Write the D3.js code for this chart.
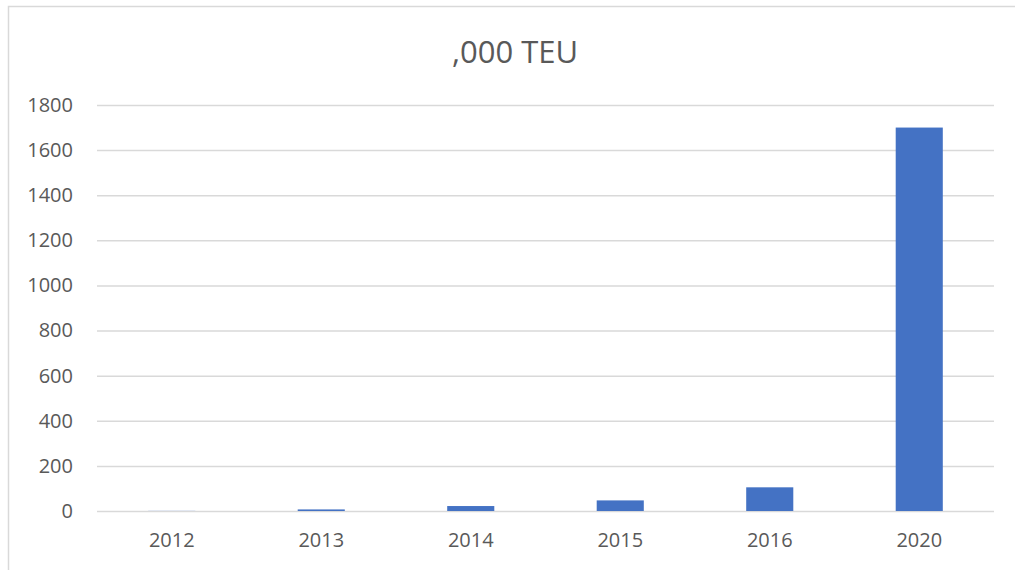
<!DOCTYPE html>
<html>
<head>
<meta charset="utf-8">
<script src="https://cdn.jsdelivr.net/npm/d3@7"></script>
<style>
  body { margin: 0; background: #fff; }
  svg { display: block; font-family: "Open Sans", sans-serif; }
</style>
</head>
<body>
<div id="chart"></div>
<script>
// values
var years = ["2012", "2013", "2014", "2015", "2016", "2020"];
var teu = [0.5, 7, 22, 47, 105, 1700];
var yTicks = [0, 200, 400, 600, 800, 1000, 1200, 1400, 1600, 1800];

var svgWidth = 1015;
var svgHeight = 570;

var margin = { top: 105, right: 21, bottom: 59, left: 97 };
var width = svgWidth - margin.left - margin.right;
var height = svgHeight - margin.top - margin.bottom;

var svg = d3.select("#chart")
  .append("svg")
  .attr("width", svgWidth)
  .attr("height", svgHeight);

// chart frame (runs off the right and bottom edges)
svg.append("rect")
  .attr("x", 8.5)
  .attr("y", 6.5)
  .attr("width", 1020)
  .attr("height", 600)
  .attr("fill", "none")
  .attr("stroke", "#d9d9d9")
  .attr("stroke-width", 1.5);

var chartGroup = svg.append("g")
  .attr("transform", `translate(${margin.left}, ${margin.top})`);

var xScale = d3.scaleBand()
  .domain(years)
  .range([0, width])
  .paddingInner(0.685)
  .paddingOuter(0.3425);

var yScale = d3.scaleLinear()
  .domain([0, 1800])
  .range([height, 0]);

// gridlines + y labels
var leftAxis = d3.axisLeft(yScale)
  .tickValues(yTicks)
  .tickSize(-width)
  .tickPadding(24)
  .tickFormat(d3.format("d"));

chartGroup.append("g")
  .call(leftAxis)
  .attr("font-family", "'Open Sans', sans-serif")
  .call(g => g.select(".domain").remove())
  .call(g => g.selectAll(".tick line").attr("stroke", "#d9d9d9").attr("stroke-width", 1.5))
  .call(g => g.selectAll(".tick text").style("font-size", "20px").attr("fill", "#595959"));

// bars
chartGroup.selectAll("rect.bar")
  .data(years)
  .enter()
  .append("rect")
  .attr("class", "bar")
  .attr("x", d => xScale(d))
  .attr("y", (d, i) => yScale(teu[i]))
  .attr("width", xScale.bandwidth())
  .attr("height", (d, i) => height - yScale(teu[i]))
  .attr("fill", "#4472c4");

// x labels
var bottomAxis = d3.axisBottom(xScale)
  .tickSize(0)
  .tickPadding(22);

chartGroup.append("g")
  .attr("transform", `translate(0, ${height})`)
  .call(bottomAxis)
  .attr("font-family", "'Open Sans', sans-serif")
  .call(g => g.select(".domain").remove())
  .call(g => g.selectAll(".tick text").style("font-size", "20px").attr("fill", "#595959"));

// title
svg.append("text")
  .attr("x", 515)
  .attr("y", 63)
  .attr("text-anchor", "middle")
  .attr("fill", "#595959")
  .style("font-size", "31px")
  .text(",000 TEU");
</script>
</body>
</html>
